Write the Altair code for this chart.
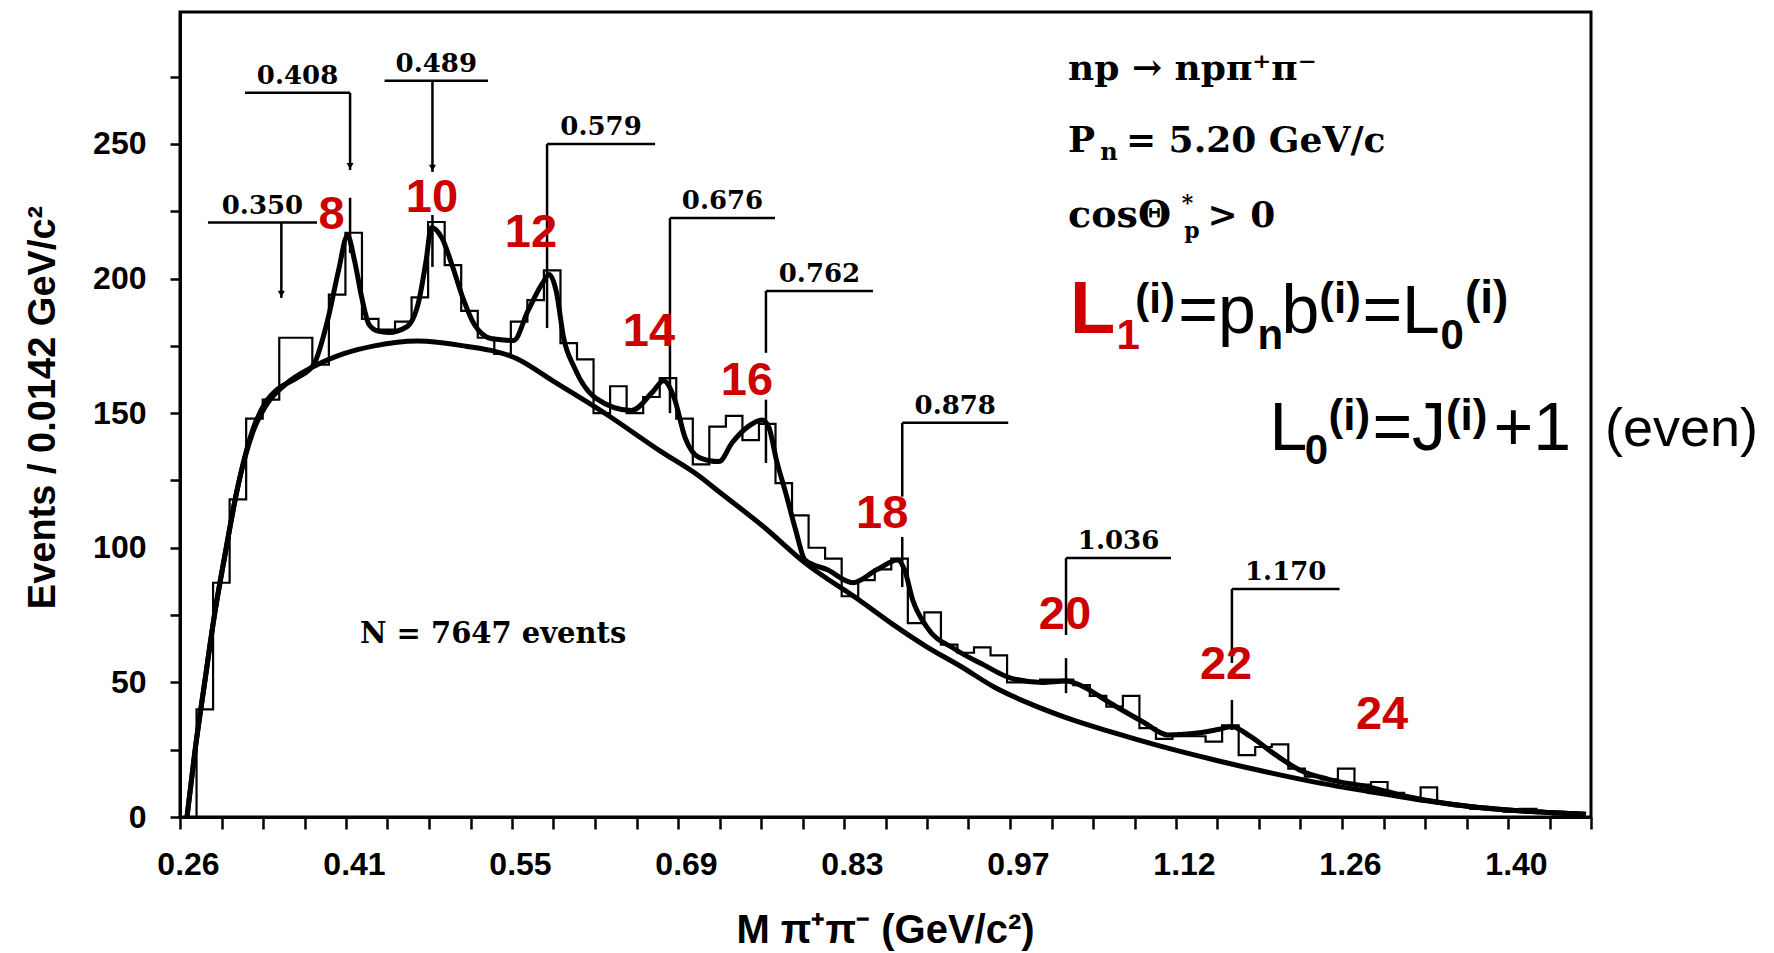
import altair as alt
import pandas as pd

# ---------------- histogram: Events / 0.0142 GeV/c^2 ----------------
BIN0 = 0.26
BINW = 0.0142
counts = [0, 40, 87, 118, 148, 155, 178, 178, 168, 194,
          217, 185, 181, 184, 193, 221, 205, 188, 178, 172,
          184, 192, 203, 176, 170, 150, 160, 150, 156, 163,
          148, 131, 145, 149, 140, 146, 124, 112, 100, 96,
          82, 88, 92, 96, 72, 76, 64, 61, 63, 60,
          50, 50, 51, 51, 49, 45, 41, 45, 33, 29,
          30, 30, 28, 34, 23, 26, 27, 18, 15, 14,
          18, 12, 13, 9, 7, 11, 5, 4, 3, 3,
          2, 3, 2, 1, 1]

# ---------------- total fit (background + resonances) ----------------
fit_x = [0.266, 0.273, 0.2812, 0.2894, 0.2993, 0.3088, 0.3226, 0.335, 0.344, 0.36,
         0.3747, 0.387, 0.3961, 0.4038, 0.4099, 0.416, 0.4222, 0.43, 0.439, 0.4544,
         0.4652, 0.4712, 0.4758, 0.4849, 0.4943, 0.5035, 0.5126, 0.5278, 0.5464, 0.5587,
         0.5708, 0.577, 0.5831, 0.5893, 0.5985, 0.6168, 0.6475, 0.666, 0.6751, 0.6843,
         0.6935, 0.7058, 0.7227, 0.7339, 0.7476, 0.7596, 0.7653, 0.772, 0.7802, 0.7885,
         0.7965, 0.8159, 0.8377, 0.858, 0.876, 0.882, 0.889, 0.901, 0.925, 0.95,
         0.974, 1.00, 1.0206, 1.035, 1.0566, 1.0864, 1.108, 1.1296, 1.151, 1.163,
         1.1786, 1.1966, 1.221, 1.246, 1.282, 1.313, 1.344, 1.375, 1.42, 1.467]
fit_y = [0, 25, 50, 74.5, 99, 121, 144, 155, 159, 163,
         168, 185, 203, 216, 206.5, 193, 183, 180.5, 180, 182,
         192, 206.5, 219, 215, 204, 192, 183, 177.6, 177, 188,
         198, 201.5, 195, 178, 167, 155.6, 151, 158, 162, 155.6,
         141, 133.5, 132, 139, 145, 147.5, 145, 132.6, 120, 106.6,
         95.5, 91.8, 87, 91.8, 95.5, 91.8, 80.6, 70.6, 62.4, 56.5,
         51.5, 50, 50.5, 48.5, 42.8, 35.4, 30.5, 31, 32.5, 33.5,
         30, 24.3, 17.5, 14, 11, 7.6, 5.2, 3.5, 2, 1]

# ---------------- smooth background ----------------
bg_x = [0.266, 0.273, 0.2812, 0.2894, 0.2993, 0.3088, 0.3226, 0.3347, 0.35, 0.3747,
        0.40, 0.4268, 0.4635, 0.5034, 0.5493, 0.580, 0.626, 0.672, 0.7064, 0.7236,
        0.761, 0.7965, 0.843, 0.8704, 0.90, 0.93, 0.96, 0.99, 1.02, 1.06,
        1.10, 1.15, 1.19, 1.24, 1.28, 1.33, 1.375, 1.42, 1.467]
bg_y = [0, 25, 50, 74.5, 99, 121, 143, 153.4, 160.5, 167.3,
        172, 175, 176.8, 175, 170.2, 162, 149.6, 136, 126.4, 120.5,
        107.8, 94.4, 80.6, 72, 63.5, 56, 48, 42, 37, 31.5,
        26.5, 21, 17, 12.5, 9.5, 6, 3.5, 2, 1]

# ---------------- mass annotations ----------------
ann_label = ["0.350", "0.408", "0.489", "0.579", "0.676", "0.762", "0.878", "1.036", "1.170"]
ann_x = [0.347, 0.406, 0.4767, 0.5751, 0.6806, 0.763, 0.8800, 1.0206, 1.163]
bar_left = [0.284, 0.3158, 0.4356, 0.5751, 0.6806, 0.763, 0.8800, 1.0206, 1.163]
bar_right = [0.3776, 0.406, 0.5244, 0.6678, 0.7708, 0.8549, 0.971, 1.1107, 1.2554]
bar_y = [220.8, 269, 273.5, 250, 222.5, 195.4, 146.4, 96.2, 84.7]
upper_end = [192.8, 240.3, 239.6, 181.6, 150, 172.4, 119, 67.6, 57.2]
has_arrow = [True, True, True, False, False, False, False, False, False]
low_x = [0.406, 0.4767, 0.763, 0.8800, 1.0206, 1.163]
low_top = [230, 223.6, 155, 104, 59, 43.5]
low_bot = [209.5, 204.3, 131.5, 85.4, 46, 32.3]

# ---------------- red L-values ----------------
red_text = ["8", "10", "12", "14", "16", "18", "20", "22", "24"]
red_x = [0.390, 0.4763, 0.5613, 0.6626, 0.7467, 0.8628, 1.0197, 1.158, 1.2919]
red_y = [223.6, 229.8, 217.1, 180.3, 162.1, 112.6, 75, 56.5, 37.9]

# ---------------- formula pieces ----------------
f_text = ["L", "1", "(i)", "=p", "n", "b", "(i)", "=L", "0", "(i)",
          "L", "0", "(i)", "=J", "(i)", "+1", "(even)"]
f_x = [1.0240, 1.0640, 1.0800, 1.1170, 1.1850, 1.2055, 1.2380, 1.2750, 1.3420, 1.3630,
       1.1952, 1.2255, 1.2460, 1.2836, 1.3467, 1.3875, 1.4833]
f_y = [179.8, 174, 187.3, 179.8, 174, 179.8, 187.3, 179.8, 174, 187.3,
       136.4, 131, 143.8, 136.4, 143.8, 136.4, 137.8]
f_size = [74, 42, 42, 68, 42, 68, 44, 68, 42, 46,
          68, 42, 44, 68, 44, 68, 54]
f_bold = [True, True, True, False, True, False, True, False, True, True,
          False, True, True, False, True, False, False]
f_color = ["#CC0000", "#CC0000"] + ["black"] * 15

# ---------------- serif captions ----------------
s_text = ["np \u2192 np\u03c0\u207a\u03c0\u207b", "P", "n", "= 5.20 GeV/c",
          "cos\u0398", "*", "p", "> 0", "N = 7647 events"]
s_x = [1.0223, 1.0223, 1.0500, 1.0720, 1.0223, 1.1200, 1.1220, 1.1420, 0.4145]
s_y = [273.8, 247.1, 244.1, 247.1, 219.2, 225.6, 215.0, 219.2, 64.6]
s_size = [36, 36, 24, 36, 38, 22, 22, 36, 29]

x_major_labels = ["0.26", "0.41", "0.55", "0.69", "0.83", "0.97", "1.12", "1.26", "1.40"]
X_STEP = 0.035625
N_XTICKS = 35
Y_TICKS = list(range(0, 300, 25))
XDOM = [0.26, 0.26 + (N_XTICKS - 1) * X_STEP]
YDOM = [0, 299]

# ---------------- data frames ----------------
edges = [BIN0 + i * BINW for i in range(len(counts) + 1)]
hist_df = pd.DataFrame({"x": edges, "y": counts + [counts[-1]]})
fit_df = pd.DataFrame({"x": fit_x, "y": fit_y})
bg_df = pd.DataFrame({"x": bg_x, "y": bg_y})
ann_df = pd.DataFrame({"label": ann_label, "x": ann_x, "bl": bar_left, "br": bar_right,
                       "by": bar_y, "ue": upper_end, "arrow": has_arrow})
ann_df["tx"] = (ann_df["bl"] + ann_df["br"]) / 2
ann_df["ty"] = ann_df["by"] + 3.2
arrow_df = ann_df[ann_df["arrow"]].copy()
arrow_df["ay"] = arrow_df["ue"] + 1.5
low_df = pd.DataFrame({"x": low_x, "t": low_top, "b": low_bot})
red_df = pd.DataFrame({"t": red_text, "x": red_x, "y": red_y})
f_df = pd.DataFrame({"t": f_text, "x": f_x, "y": f_y, "s": f_size, "bold": f_bold, "c": f_color})
s_df = pd.DataFrame({"t": s_text, "x": s_x, "y": s_y, "s": s_size})
x_vals = [0.26 + i * X_STEP for i in range(N_XTICKS)]

xs = alt.Scale(domain=XDOM, nice=False, zero=False)
ys = alt.Scale(domain=YDOM, nice=False, zero=False)

lab_arr = "[" + ",".join("'%s'" % s for s in x_major_labels) + "]"
idx = "round((datum.value-0.26)/%f)" % X_STEP
x_axis = alt.Axis(values=x_vals,
                  labelExpr="(%s %% 4 == 0) ? %s[%s/4] : ''" % (idx, lab_arr, idx),
                  tickSize=12, tickWidth=2.5, tickColor="black",
                  domainColor="black", domainWidth=3,
                  labelFont="Liberation Sans", labelFontSize=32, labelFontWeight="bold",
                  labelColor="black", labelPadding=20, labelAngle=0, labelOffset=8,
                  labelOverlap=False, labelFlush=False, grid=False,
                  title="M \u03c0\u207a\u03c0\u207b (GeV/c\u00b2)",
                  titleFont="Liberation Sans", titleFontSize=40, titleFontWeight="bold",
                  titleColor="black", titleX=705, titleY=113,
                  titleAlign="center", titleBaseline="middle")
y_axis = alt.Axis(values=Y_TICKS,
                  labelExpr="datum.value % 50 == 0 ? datum.label : ''",
                  tickSize=10, tickWidth=2.5, tickColor="black",
                  domainColor="black", domainWidth=3,
                  labelFont="Liberation Sans", labelFontSize=32, labelFontWeight="bold",
                  labelColor="black", labelPadding=24, grid=False,
                  labelOverlap=False, labelFlush=False,
                  title="Events / 0.0142 GeV/c\u00b2",
                  titleFont="Liberation Sans", titleFontSize=38, titleFontWeight="bold",
                  titleColor="black", titleAngle=-90, titleX=-137, titleY=395,
                  titleAlign="center", titleBaseline="middle")


def X(f):
    return alt.X(f, type="quantitative", scale=xs, axis=x_axis)


def Y(f):
    return alt.Y(f, type="quantitative", scale=ys, axis=y_axis)


hist = alt.Chart(hist_df).mark_line(interpolate="step-after", color="black", strokeWidth=2.2).encode(
    x=X("x"), y=Y("y"))
bg = alt.Chart(bg_df).mark_line(interpolate="monotone", color="black", strokeWidth=5).encode(
    x=X("x"), y=Y("y"))
fit = alt.Chart(fit_df).mark_line(interpolate="monotone", color="black", strokeWidth=5).encode(
    x=X("x"), y=Y("y"))

hbar = alt.Chart(ann_df).mark_rule(color="black", strokeWidth=2.5).encode(
    x=X("bl"), x2="br", y=Y("by"))
vup = alt.Chart(ann_df).mark_rule(color="black", strokeWidth=2.5).encode(
    x=X("x"), y=Y("by"), y2="ue")
vlow = alt.Chart(low_df).mark_rule(color="black", strokeWidth=2.5).encode(
    x=X("x"), y=Y("t"), y2="b")
arrows = alt.Chart(arrow_df).mark_point(shape="triangle-down", filled=True, size=50,
                                        color="black", opacity=1).encode(x=X("x"), y=Y("ay"))
ann_text = alt.Chart(ann_df).mark_text(font="DejaVu Serif", fontWeight="bold", fontSize=26,
                                       align="center", baseline="alphabetic", color="black").encode(
    x=X("tx"), y=Y("ty"), text="label:N")

red = alt.Chart(red_df).mark_text(font="Liberation Sans", fontWeight="bold", fontSize=47,
                                  color="#CC0000", align="center", baseline="middle").encode(
    x=X("x"), y=Y("y"), text="t:N")

f_reg = alt.Chart(f_df[~f_df["bold"]]).mark_text(font="Liberation Sans", align="left",
                                                 baseline="alphabetic").encode(
    x=X("x"), y=Y("y"), text="t:N",
    size=alt.Size("s:Q", scale=None), color=alt.Color("c:N", scale=None))
f_bld = alt.Chart(f_df[f_df["bold"]]).mark_text(font="Liberation Sans", fontWeight="bold",
                                                align="left", baseline="alphabetic").encode(
    x=X("x"), y=Y("y"), text="t:N",
    size=alt.Size("s:Q", scale=None), color=alt.Color("c:N", scale=None))

serif = alt.Chart(s_df).mark_text(font="DejaVu Serif", fontWeight="bold", align="left",
                                  baseline="alphabetic", color="black").encode(
    x=X("x"), y=Y("y"), text="t:N", size=alt.Size("s:Q", scale=None))

chart = alt.layer(hist, bg, fit, hbar, vup, vlow, arrows, ann_text, red, f_reg, f_bld, serif).properties(
    width=1411, height=805,
    autosize=alt.AutoSizeParams(type="none"),
    padding={"left": 180, "top": 12, "right": 183, "bottom": 136},
    background="white",
).configure_view(stroke="black", strokeWidth=3)

chart.save("out.html", embed_options={"renderer": "svg", "actions": False})
